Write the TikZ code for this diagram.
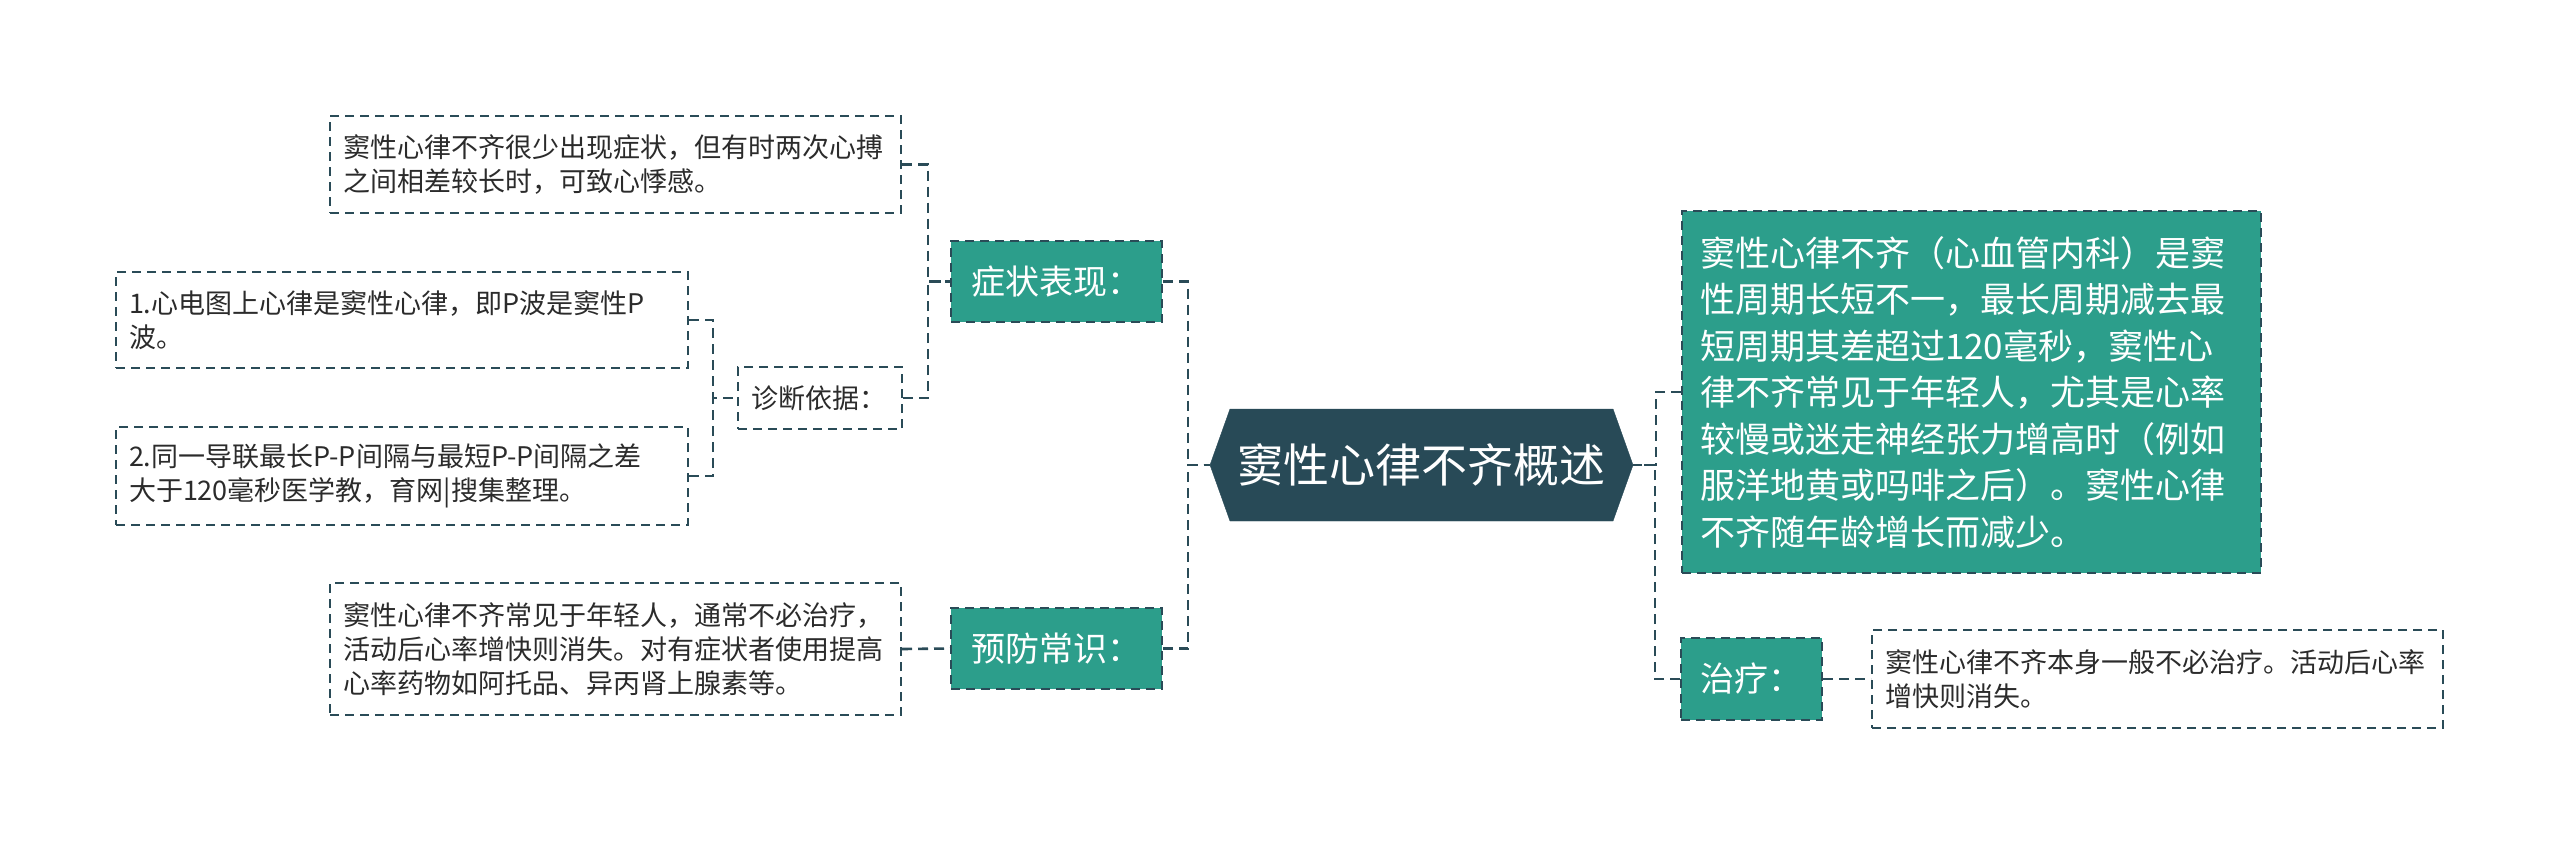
\documentclass[tikz,border=0pt]{standalone}
\usepackage{fontspec}
\setmainfont{Noto Sans CJK SC}
\usepackage{xcolor}
\usepackage{tikz}
\usetikzlibrary{positioning,shapes.symbols}

\definecolor{rootC}{HTML}{284A57}
\definecolor{tealC}{HTML}{2C9E8B}
\definecolor{lineC}{HTML}{2A4B57}
\definecolor{textC}{HTML}{2B2B2B}

\begin{document}
\begin{tikzpicture}[x=1pt, y=-1pt,
  conn/.style={draw=lineC, line width=2.6pt, dash pattern=on 10pt off 6pt},
  leaf/.style={draw=lineC, line width=2pt, dash pattern=on 9pt off 6pt, fill=white, text=textC,
    align=left, inner xsep=13pt, inner ysep=0pt, font=\fontsize{27}{34}\selectfont},
  cat/.style={draw=lineC, line width=2pt, dash pattern=on 9pt off 6pt, fill=tealC, text=white,
    inner sep=0pt, font=\fontsize{34}{42}\selectfont},
  rootbox/.style={signal, signal to=west and east, signal pointer angle=140.7, fill=rootC, draw=rootC,
    text=white, inner sep=0pt, minimum width=423pt, minimum height=112pt, font=\fontsize{46}{50}\selectfont}
]
\useasboundingbox (0,0) rectangle (2560,844);

% centre
\node[rootbox] (root) at (1421.5,465) {窦性心律不齐概述};

% left side
\node[cat, minimum width=211pt, minimum height=81pt] (sym) at (1056.5,281.5) {症状表现：};
\node[cat, minimum width=211pt, minimum height=81pt] (prev) at (1056.5,648.5) {预防常识：};
\node[leaf, text width=545pt, minimum height=97pt] (sym1) at (615.5,164.5)
  {窦性心律不齐很少出现症状，但有时两次心搏\\之间相差较长时，可致心悸感。};
\node[leaf, text width=138pt, inner xsep=13pt, minimum height=62pt] (diag) at (820,398) {诊断依据：};
\node[leaf, text width=546pt, minimum height=96pt] (d1) at (402,320)
  {1.心电图上心律是窦性心律，即P波是窦性P\\波。};
\node[leaf, text width=546pt, minimum height=98pt] (d2) at (402,476)
  {2.同一导联最长P-P间隔与最短P-P间隔之差\\大于120毫秒医学教，育网|搜集整理。};
\node[leaf, text width=545pt, minimum height=132pt] (prev1) at (615.5,649)
  {窦性心律不齐常见于年轻人，通常不必治疗，\\活动后心率增快则消失。对有症状者使用提高\\心率药物如阿托品、异丙肾上腺素等。};

% right side
\node[cat, text width=543pt, align=left, inner xsep=18pt, minimum height=362pt,
  font=\fontsize{35}{46.5}\selectfont] (desc) at (1971.5,392)
  {窦性心律不齐（心血管内科）是窦\\性周期长短不一，最长周期减去最\\短周期其差超过120毫秒，窦性心\\律不齐常见于年轻人，尤其是心率\\较慢或迷走神经张力增高时（例如\\服洋地黄或吗啡之后）。窦性心律\\不齐随年龄增长而减少。};
\node[cat, minimum width=141pt, minimum height=82pt] (treat) at (1751.5,679) {治疗：};
\node[leaf, text width=545pt, minimum height=98pt] (treat1) at (2157.5,679)
  {窦性心律不齐本身一般不必治疗。活动后心率\\增快则消失。};

% connectors
\draw[conn] (sym.east) -- ++(25,0) |- (root.west);
\draw[conn] (prev.east) -- ++(25,0) |- (root.west);
\draw[conn] (sym1.east) -- ++(26,0) |- (sym.west);
\draw[conn] (diag.east) -- ++(25,0) |- (sym.west);
\draw[conn] (d1.east) -- ++(24,0) |- (diag.west);
\draw[conn] (d2.east) -- ++(24,0) |- (diag.west);
\draw[conn] (prev1.east) -- (prev.west);
\draw[conn] (desc.west) -- ++(-25,0) |- (root.east);
\draw[conn] (treat.west) -- ++(-25,0) |- (root.east);
\draw[conn] (treat.east) -- (treat1.west);
\end{tikzpicture}
\end{document}
